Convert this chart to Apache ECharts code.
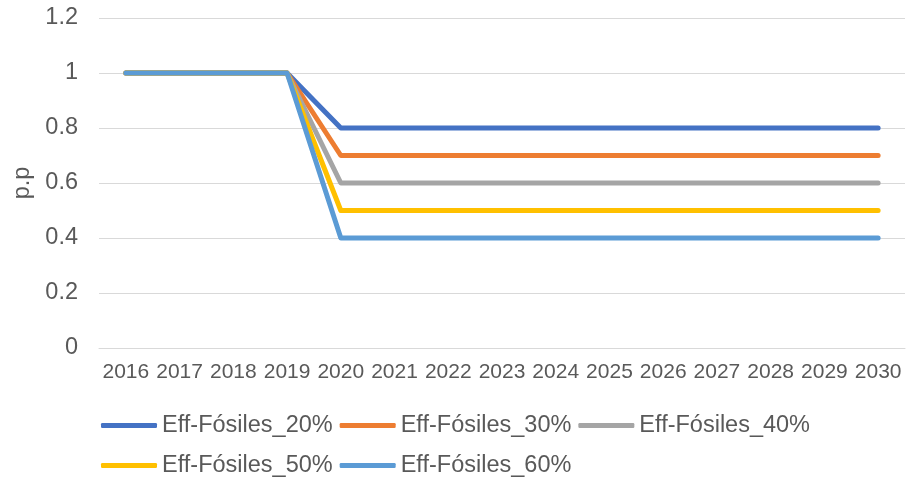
<!DOCTYPE html>
<html>
<head>
<meta charset="utf-8">
<script src="https://cdn.jsdelivr.net/npm/echarts@6/dist/echarts.min.js"></script>
<style>
html, body { margin: 0; padding: 0; background: #fff; }
#chart { width: 907px; height: 479px; }
</style>
</head>
<body>
<div id="chart"></div>
<script>
var years = ['2016','2017','2018','2019','2020','2021','2022','2023','2024','2025','2026','2027','2028','2029','2030'];
var seriesNames = ['Eff-Fósiles_20%','Eff-Fósiles_30%','Eff-Fósiles_40%','Eff-Fósiles_50%','Eff-Fósiles_60%'];
var colors = ['#4472C4','#ED7D31','#A5A5A5','#FFC000','#5B9BD5'];
var eff20 = [1,1,1,1,0.8,0.8,0.8,0.8,0.8,0.8,0.8,0.8,0.8,0.8,0.8];
var eff30 = [1,1,1,1,0.7,0.7,0.7,0.7,0.7,0.7,0.7,0.7,0.7,0.7,0.7];
var eff40 = [1,1,1,1,0.6,0.6,0.6,0.6,0.6,0.6,0.6,0.6,0.6,0.6,0.6];
var eff50 = [1,1,1,1,0.5,0.5,0.5,0.5,0.5,0.5,0.5,0.5,0.5,0.5,0.5];
var eff60 = [1,1,1,1,0.4,0.4,0.4,0.4,0.4,0.4,0.4,0.4,0.4,0.4,0.4];
var seriesData = [eff20, eff30, eff40, eff50, eff60];

var myChart = echarts.init(document.getElementById('chart'));
var textColor = '#595959';
var fontFamily = '"Liberation Sans", Arial, sans-serif';

var series = [];
for (var i = 0; i < seriesNames.length; i++) {
    series.push({
        name: seriesNames[i],
        type: 'line',
        data: seriesData[i],
        symbol: 'none',
        lineStyle: { width: 5, color: colors[i], cap: 'round', join: 'round' },
        itemStyle: { color: colors[i] }
    });
}

var option = {
    animation: false,
    grid: { left: 99, right: 2, top: 18, bottom: 131 },
    legend: {
        left: 101,
        top: 409,
        width: 790,
        padding: 0,
        itemWidth: 56,
        itemHeight: 5,
        itemGap: 7,
        icon: 'roundRect',
        textStyle: { color: textColor, fontSize: 23.5, fontFamily: fontFamily, lineHeight: 33 },
        data: seriesNames
    },
    xAxis: {
        type: 'category',
        data: years,
        boundaryGap: true,
        axisLine: { lineStyle: { color: '#d9d9d9', width: 1 } },
        axisTick: { show: false },
        axisLabel: { color: textColor, fontSize: 21, fontFamily: fontFamily, margin: 14, interval: 0 }
    },
    yAxis: {
        type: 'value',
        min: 0,
        max: 1.2,
        interval: 0.2,
        name: 'p.p',
        nameLocation: 'middle',
        nameRotate: 90,
        nameGap: 61,
        nameTextStyle: { color: textColor, fontSize: 23.5, fontFamily: fontFamily },
        axisLine: { show: false },
        axisTick: { show: false },
        splitLine: { lineStyle: { color: '#d9d9d9', width: 1 } },
        axisLabel: {
            color: textColor, fontSize: 23.5, fontFamily: fontFamily, margin: 21,
            formatter: function (v) { return String(Math.round(v * 10) / 10); }
        }
    },
    series: series
};
myChart.setOption(option);
</script>
</body>
</html>
